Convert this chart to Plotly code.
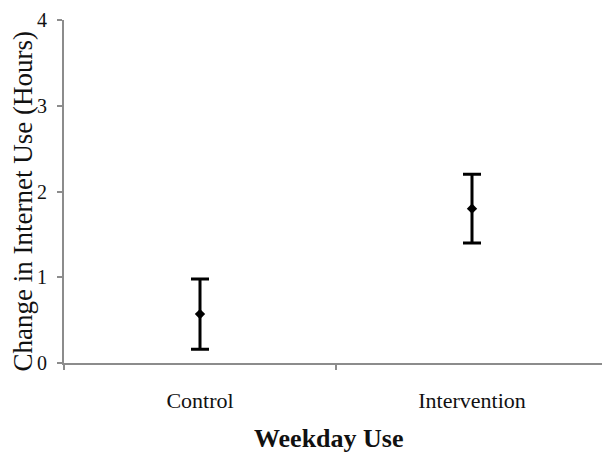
import plotly.graph_objects as go

categories = ["Control", "Intervention"]
means = [0.57, 1.80]
errors = [0.41, 0.40]
y_ticks = [0, 1, 2, 3, 4]
x_title = "Weekday Use"
y_title = "Change in Internet Use (Hours)"

fig = go.Figure()
fig.add_trace(go.Scatter(
    x=categories, y=means, mode="markers",
    marker=dict(symbol="diamond", size=8, color="black"),
    error_y=dict(type="data", array=errors, visible=True, color="black", thickness=3, width=9),
    showlegend=False,
))

font_family = "Liberation Serif, Times New Roman, serif"
fig.update_layout(
    width=602, height=445,
    margin=dict(l=56, r=2, t=12, b=90),
    plot_bgcolor="white", paper_bgcolor="white",
    font=dict(family=font_family, color="black"),
)
fig.update_xaxes(
    type="category", range=[-0.5, 1.5], automargin=False,
    showline=True, linecolor="#8c8c8c", linewidth=2,
    ticks="outside", tickson="boundaries", ticklen=5, tickcolor="#8c8c8c", tickwidth=2,
    showgrid=False, tickfont=dict(size=22, family=font_family, color="#111"),
    ticklabelstandoff=17,
)
fig.update_yaxes(
    range=[0, 4], tickvals=y_ticks, automargin=False,
    showline=True, linecolor="#8c8c8c", linewidth=2,
    ticks="outside", ticklen=5, tickcolor="#8c8c8c", tickwidth=2,
    showgrid=False, zeroline=False, tickfont=dict(size=20, family=font_family, color="#111"),
    ticklabelstandoff=6,
)
fig.add_annotation(
    text="<b>" + x_title + "</b>", xref="paper", yref="paper", x=0.5, y=0,
    xanchor="center", yanchor="middle", xshift=-7, yshift=-75, showarrow=False,
    font=dict(size=26, family=font_family, color="#111"),
)
fig.add_annotation(
    text=y_title, xref="paper", yref="paper", x=0, y=0.5, textangle=-90,
    xanchor="center", yanchor="middle", xshift=-42, yshift=-10, showarrow=False,
    font=dict(size=27, family=font_family, color="#111"),
)
fig.write_html("out.html")
